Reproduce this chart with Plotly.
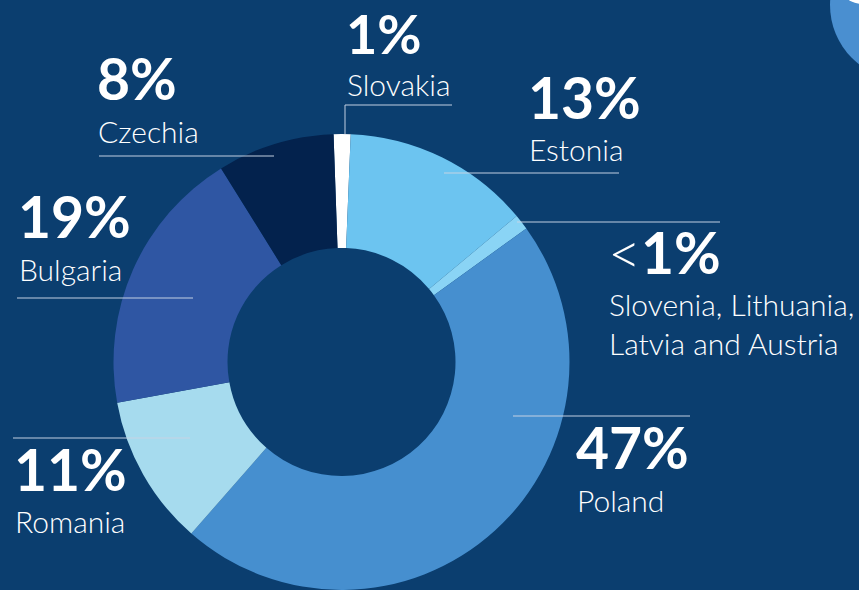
import plotly.graph_objects as go

W, H = 859, 590

# ---- data ----
countries = ["Slovakia", "Estonia", "Slovenia, Lithuania, Latvia and Austria",
             "Poland", "Romania", "Bulgaria", "Czechia"]
shares = [1.2, 13.3, 1.1, 46.4, 10.7, 19.0, 8.3]
pct_labels = ["1%", "13%", "<1%", "47%", "11%", "19%", "8%"]
name_labels = ["Slovakia", "Estonia", "Slovenia, Lithuania,<br>Latvia and Austria",
               "Poland", "Romania", "Bulgaria", "Czechia"]
colors = ["#ffffff", "#6cc4f0", "#8ad4f5", "#468fcf", "#a6dbee", "#2f56a3", "#03224d"]

BG = "#0b3e6f"
FONT = "Lato"
ASC, DESC = 0.987, 0.213

fig = go.Figure()

cx, cy_top, R = 341.5, 362.0, 228.0
fig.add_trace(go.Pie(
    labels=countries, values=shares, sort=False, direction="clockwise",
    rotation=-2, hole=0.5, textinfo="none", hoverinfo="label+percent",
    marker=dict(colors=colors, line=dict(width=0)),
    domain=dict(x=[(cx - R) / W, (cx + R) / W], y=[0, 2 * R / H]),
    showlegend=False,
))

def px(x):
    return x / W

def py(y):
    return 1 - y / H

# label layout: (left x, pct baseline, name baseline, pct size)
layout_pos = {
    "Slovakia": (345, 53.5, 94.5, 54),
    "Estonia": (527, 118, 160, 57),
    "Slovenia, Lithuania, Latvia and Austria": (607, 273, 315, 57),
    "Poland": (575, 468.5, 510.5, 57),
    "Romania": (13, 490, 532, 57),
    "Bulgaria": (17, 237.5, 279.5, 57),
    "Czechia": (96, 99.5, 141.5, 57),
}

NAME_SIZE = 30

annotations = []
for c, p, n in zip(countries, pct_labels, name_labels):
    x0, pb, nb, ps = layout_pos[c]
    if p.startswith("<"):
        ptxt = "&lt;<b>" + p[1:] + "</b>"
        pw = 300
    else:
        ptxt = "<b>" + p + "</b>"
        pw = 700
    annotations.append(dict(
        x=px(x0), y=py(pb - ASC * ps), xref="paper", yref="paper",
        xanchor="left", yanchor="top", borderpad=0,
        text=ptxt, showarrow=False, align="left",
        font=dict(family=FONT, size=ps, color="white", weight=pw),
    ))
    annotations.append(dict(
        x=px(x0 + 1), y=py(nb - ASC * NAME_SIZE), xref="paper", yref="paper",
        xanchor="left", yanchor="top", borderpad=0,
        text=n, showarrow=False, align="left",
        font=dict(family=FONT, size=NAME_SIZE, color="white", weight=300),
    ))

LINE = dict(color="rgba(200,212,228,0.65)", width=1.5)
shapes = [
    # decorative circle top-right
    dict(type="circle", xref="paper", yref="paper", layer="below",
         x0=px(830), x1=px(980), y0=py(80), y1=py(-70),
         fillcolor="#4a8fd0", line=dict(width=0)),
    dict(type="circle", xref="paper", yref="paper", layer="below",
         x0=px(846), x1=px(880), y0=py(4), y1=py(-14),
         fillcolor="#ffffff", line=dict(width=0)),
    # leader lines
    dict(type="line", xref="paper", yref="paper", x0=px(345), x1=px(345), y0=py(105), y1=py(134), line=LINE, layer="above"),
    dict(type="line", xref="paper", yref="paper", x0=px(345), x1=px(452), y0=py(105), y1=py(105), line=LINE, layer="above"),
    dict(type="line", xref="paper", yref="paper", x0=px(444), x1=px(619), y0=py(173), y1=py(173), line=LINE, layer="above"),
    dict(type="line", xref="paper", yref="paper", x0=px(517), x1=px(720), y0=py(222), y1=py(222), line=LINE, layer="above"),
    dict(type="line", xref="paper", yref="paper", x0=px(513), x1=px(690), y0=py(416), y1=py(416), line=LINE, layer="above"),
    dict(type="line", xref="paper", yref="paper", x0=px(13), x1=px(190), y0=py(438), y1=py(438), line=LINE, layer="above"),
    dict(type="line", xref="paper", yref="paper", x0=px(17), x1=px(193), y0=py(298), y1=py(298), line=LINE, layer="above"),
    dict(type="line", xref="paper", yref="paper", x0=px(99), x1=px(274), y0=py(156), y1=py(156), line=LINE, layer="above"),
]

fig.update_layout(
    width=W, height=H,
    margin=dict(l=0, r=0, t=0, b=0),
    paper_bgcolor=BG, plot_bgcolor=BG,
    annotations=annotations, shapes=shapes,
    showlegend=False,
)

fig.write_html(
    "out.html",
    config={"displayModeBar": False},
    post_script="document.body.style.margin='0';document.body.style.overflow='hidden';"
                "document.body.style.background='%s';" % BG,
)
